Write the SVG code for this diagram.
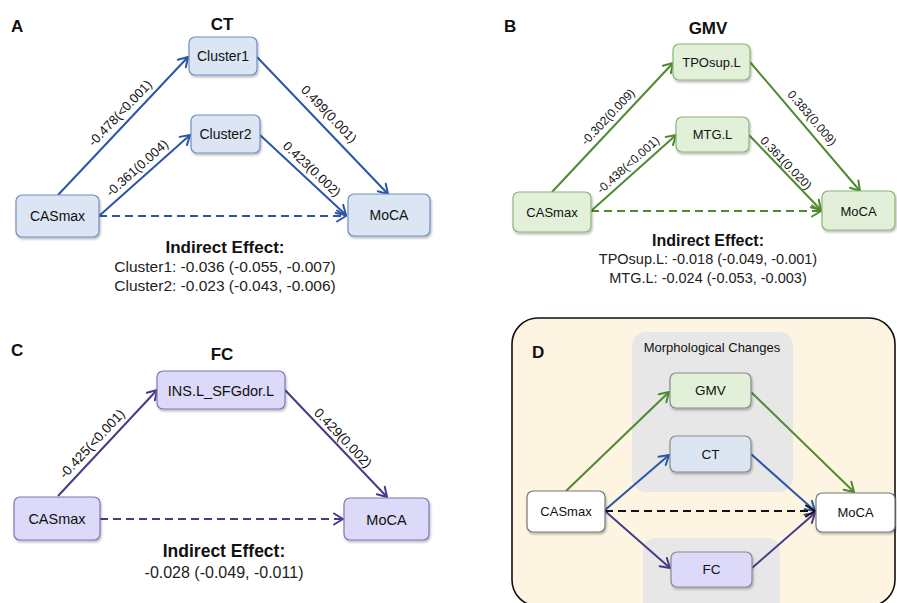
<svg xmlns="http://www.w3.org/2000/svg" width="897" height="603" viewBox="0 0 897 603">
  <defs>
    <filter id="shadow" x="-20%" y="-20%" width="140%" height="150%">
      <feDropShadow dx="1" dy="1.8" stdDeviation="1.1" flood-color="#000" flood-opacity="0.28"/>
    </filter>
    <marker id="arr-blue" viewBox="-11 -7 13 14" markerWidth="13" markerHeight="14" refX="0" refY="0" orient="auto" markerUnits="userSpaceOnUse">
      <path d="M-9,-5.5 L0,0 L-9,5.5" fill="none" stroke="#2b55a6" stroke-width="2" stroke-linecap="round" stroke-linejoin="round"/>
    </marker>
    <marker id="arr-green" viewBox="-11 -7 13 14" markerWidth="13" markerHeight="14" refX="0" refY="0" orient="auto" markerUnits="userSpaceOnUse">
      <path d="M-9,-5.5 L0,0 L-9,5.5" fill="none" stroke="#4f8a2f" stroke-width="2" stroke-linecap="round" stroke-linejoin="round"/>
    </marker>
    <marker id="arr-purple" viewBox="-11 -7 13 14" markerWidth="13" markerHeight="14" refX="0" refY="0" orient="auto" markerUnits="userSpaceOnUse">
      <path d="M-9,-5.5 L0,0 L-9,5.5" fill="none" stroke="#463a8a" stroke-width="2" stroke-linecap="round" stroke-linejoin="round"/>
    </marker>
    <marker id="arr-black" viewBox="-11 -7 13 14" markerWidth="13" markerHeight="14" refX="0" refY="0" orient="auto" markerUnits="userSpaceOnUse">
      <path d="M-9,-5.5 L0,0 L-9,5.5" fill="none" stroke="#111" stroke-width="2" stroke-linecap="round" stroke-linejoin="round"/>
    </marker>
  </defs>
  <style>
    text { font-family: "Liberation Sans", Arial, Helvetica, sans-serif; fill: #111; }
    .panel { font-size: 17px; font-weight: bold; }
    .title { font-size: 17px; font-weight: bold; text-anchor: middle; }
    .node rect { filter: url(#shadow); stroke-width: 1.2; }
    .node text { text-anchor: middle; }
    .blue rect { fill: #dbe5f4; stroke: #6f8fc2; }
    .green rect { fill: #e2f0d9; stroke: #8ab676; }
    .purple rect { fill: #dcdaf8; stroke: #7c78bc; }
    .white rect { fill: #ffffff; stroke: #777; }
    .dblue rect { fill: #dce6f2; stroke: #8a8a8a; }
    .dgreen rect { fill: #e2f0d9; stroke: #8a8a8a; }
    .dpurple rect { fill: #dcdaf8; stroke: #8a8a8a; }
    .e { fill: none; stroke-width: 2; }
    .eb { stroke: #2b55a6; marker-end: url(#arr-blue); }
    .eg { stroke: #4f8a2f; marker-end: url(#arr-green); }
    .ep { stroke: #463a8a; marker-end: url(#arr-purple); }
    .ek { stroke: #111; marker-end: url(#arr-black); }
    .dash { stroke-dasharray: 8 5; }
    .lbl { text-anchor: middle; }
    .ie { font-weight: bold; text-anchor: middle; }
    .iv { text-anchor: middle; fill: #222; }
  </style>

  <!-- Panel A: cortical thickness mediators -->
  <g id="panelA">
    <text class="panel" x="11" y="32">A</text>
    <text class="title" x="222" y="30">CT</text>
    <g id="connectorsA">
      <line class="e eb" x1="58" y1="195" x2="188" y2="57"/>
      <line class="e eb" x1="257" y1="57" x2="388" y2="194"/>
      <line class="e eb" x1="99" y1="216" x2="190" y2="135"/>
      <line class="e eb" x1="260" y1="135" x2="346" y2="215"/>
      <line class="e eb dash" x1="99" y1="216" x2="346" y2="216"/>
      <text class="lbl" font-size="13" transform="translate(120,113) rotate(-46.5)" y="4.5">-0.478(&lt;0.001)</text>
      <text class="lbl" font-size="13" transform="translate(137,168) rotate(-41.7)" y="4.5">-0.361(0.004)</text>
      <text class="lbl" font-size="13" transform="translate(329,114) rotate(46.3)" y="4.5">0.499(0.001)</text>
      <text class="lbl" font-size="13" transform="translate(312,169) rotate(43.3)" y="4.5">0.423(0.002)</text>
    </g>
    <g id="A-cluster1" class="node blue">
      <rect x="189" y="37" width="68" height="38" rx="6"/>
      <text x="223" y="61" font-size="14">Cluster1</text>
    </g>
    <g id="A-cluster2" class="node blue">
      <rect x="191" y="115" width="69" height="38" rx="6"/>
      <text x="225.5" y="139" font-size="14">Cluster2</text>
    </g>
    <g id="A-casmax" class="node blue">
      <rect x="16" y="195" width="83" height="42" rx="6"/>
      <text x="57.5" y="221" font-size="14">CASmax</text>
    </g>
    <g id="A-moca" class="node blue">
      <rect x="348" y="194" width="82" height="42" rx="6"/>
      <text x="389" y="220" font-size="14">MoCA</text>
    </g>
    <text class="ie" x="225" y="253" font-size="17">Indirect Effect:</text>
    <text class="iv" x="225" y="272" font-size="15.5">Cluster1: -0.036 (-0.055, -0.007)</text>
    <text class="iv" x="225" y="291" font-size="15.5">Cluster2: -0.023 (-0.043, -0.006)</text>
  </g>

  <!-- Panel B: grey matter volume mediators -->
  <g id="panelB">
    <text class="panel" x="504" y="32">B</text>
    <text class="title" x="708" y="34">GMV</text>
    <g id="connectorsB">
      <line class="e eg" x1="552" y1="192" x2="673" y2="63"/>
      <line class="e eg" x1="750" y1="62" x2="860" y2="191"/>
      <line class="e eg" x1="591" y1="211" x2="676" y2="135"/>
      <line class="e eg" x1="749" y1="135" x2="821" y2="210"/>
      <line class="e eg dash" x1="591" y1="211" x2="821" y2="211"/>
      <text class="lbl" font-size="12" transform="translate(608,117) rotate(-46.8)" y="4">-0.302(0.009)</text>
      <text class="lbl" font-size="12" transform="translate(628,165) rotate(-41.8)" y="4">-0.438(&lt;0.001)</text>
      <text class="lbl" font-size="12" transform="translate(812,118) rotate(49.5)" y="4">0.383(0.009)</text>
      <text class="lbl" font-size="12" transform="translate(786,163) rotate(46.2)" y="4">0.361(0.020)</text>
    </g>
    <g id="B-tposup" class="node green">
      <rect x="673" y="44" width="77" height="36" rx="6"/>
      <text x="711.5" y="66.5" font-size="13">TPOsup.L</text>
    </g>
    <g id="B-mtg" class="node green">
      <rect x="676" y="117" width="73" height="35" rx="6"/>
      <text x="712.5" y="139" font-size="13">MTG.L</text>
    </g>
    <g id="B-casmax" class="node green">
      <rect x="513" y="192" width="78" height="40" rx="6"/>
      <text x="552" y="216.5" font-size="13">CASmax</text>
    </g>
    <g id="B-moca" class="node green">
      <rect x="822" y="191" width="73" height="39" rx="6"/>
      <text x="858.5" y="215.5" font-size="13">MoCA</text>
    </g>
    <text class="ie" x="708" y="246" font-size="16">Indirect Effect:</text>
    <text class="iv" x="708" y="264" font-size="14.5">TPOsup.L: -0.018 (-0.049, -0.001)</text>
    <text class="iv" x="708" y="283" font-size="14.5">MTG.L: -0.024 (-0.053, -0.003)</text>
  </g>

  <!-- Panel C: functional connectivity mediator -->
  <g id="panelC">
    <text class="panel" x="11" y="356">C</text>
    <text class="title" x="222" y="360">FC</text>
    <g id="connectorsC">
      <line class="e ep" x1="58" y1="496" x2="157" y2="390"/>
      <line class="e ep" x1="285" y1="390" x2="387" y2="497"/>
      <line class="e ep dash" x1="100" y1="519" x2="343" y2="519"/>
      <text class="lbl" font-size="13.5" transform="translate(92,444) rotate(-47)" y="4.5">-0.425(&lt;0.001)</text>
      <text class="lbl" font-size="13.5" transform="translate(343,438) rotate(46.4)" y="4.5">0.429(0.002)</text>
    </g>
    <g id="C-ins" class="node purple">
      <rect x="157" y="371" width="128" height="38" rx="6"/>
      <text x="221" y="395.5" font-size="14.5">INS.L_SFGdor.L</text>
    </g>
    <g id="C-casmax" class="node purple">
      <rect x="14" y="497" width="86" height="43" rx="6"/>
      <text x="57" y="524" font-size="14.5">CASmax</text>
    </g>
    <g id="C-moca" class="node purple">
      <rect x="344" y="498" width="85" height="42" rx="6"/>
      <text x="386.5" y="524.5" font-size="14.5">MoCA</text>
    </g>
    <text class="ie" x="224" y="557" font-size="17.5">Indirect Effect:</text>
    <text class="iv" x="224" y="578" font-size="16">-0.028 (-0.049, -0.011)</text>
  </g>

  <!-- Panel D: summary model -->
  <g id="panelD">
    <rect x="512" y="318" width="383" height="288" rx="26" fill="#fdf5e1" stroke="#111" stroke-width="1.6"/>
    <text class="panel" x="532" y="358">D</text>
    <g id="group-morph">
      <rect x="632" y="332" width="161" height="160" rx="14" fill="#e7e7e7"/>
      <text x="712" y="352" font-size="13" text-anchor="middle">Morphological Changes</text>
    </g>
    <g id="group-fc">
      <rect x="643" y="538" width="137" height="80" rx="12" fill="#e7e7e7"/>
    </g>
    <g id="connectorsD">
      <line class="e eg" x1="566" y1="491" x2="669" y2="392"/>
      <line class="e eg" x1="751" y1="392" x2="854" y2="492"/>
      <line class="e eb" x1="605" y1="510" x2="669" y2="455"/>
      <line class="e eb" x1="751" y1="454" x2="815" y2="511"/>
      <line class="e ep" x1="605" y1="511" x2="670" y2="568"/>
      <line class="e ep" x1="752" y1="568" x2="815" y2="513"/>
      <line class="e ek dash" x1="605" y1="511" x2="815" y2="511"/>
    </g>
    <g id="D-gmv" class="node dgreen">
      <rect x="670" y="373" width="81" height="35" rx="6"/>
      <text x="710.5" y="395" font-size="13.5">GMV</text>
    </g>
    <g id="D-ct" class="node dblue">
      <rect x="670" y="436" width="81" height="36" rx="6"/>
      <text x="710.5" y="458.5" font-size="13.5">CT</text>
    </g>
    <g id="D-fc" class="node dpurple">
      <rect x="671" y="552" width="81" height="35" rx="6"/>
      <text x="711.5" y="574" font-size="13.5">FC</text>
    </g>
    <g id="D-casmax" class="node white">
      <rect x="527" y="491" width="78" height="41" rx="6"/>
      <text x="566" y="516" font-size="13">CASmax</text>
    </g>
    <g id="D-moca" class="node white">
      <rect x="816" y="493" width="79" height="39" rx="6"/>
      <text x="855.5" y="517" font-size="13">MoCA</text>
    </g>
  </g>
</svg>
